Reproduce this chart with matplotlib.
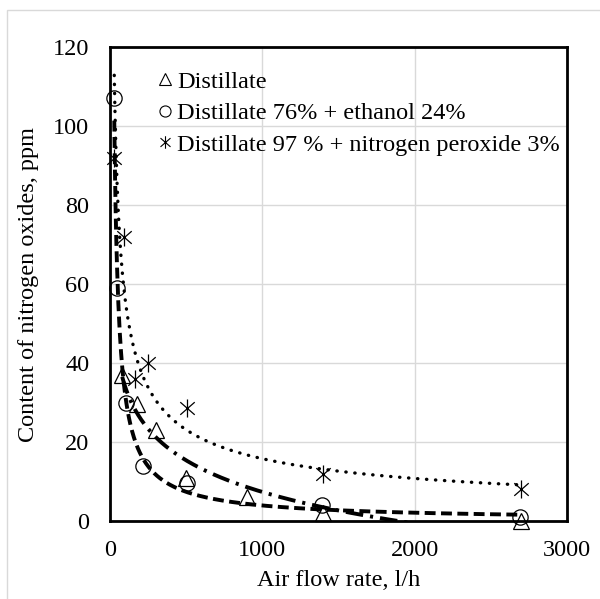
import numpy as np
import matplotlib.pyplot as plt
from matplotlib.lines import Line2D
from matplotlib.path import Path

plt.rcParams['font.family'] = ['Liberation Serif', 'DejaVu Serif']

# data
x_dist = [80, 175, 300, 500, 900, 1400, 2700]
y_dist = [37, 29.5, 23, 11, 6, 2, 0]

x_eth = [28, 44, 103, 219, 503, 1390, 2692]
y_eth = [107, 59, 30, 14, 9.7, 4, 1.1]

x_nox = [28, 92, 164, 252, 508, 1396, 2697]
y_nox = [92, 72, 36, 40, 28.5, 12, 8]

labels = ['Distillate', 'Distillate 76% + ethanol 24%',
          'Distillate 97 % + nitrogen peroxide 3%']

# Excel-like asterisk: an X with a vertical bar through it
star = Path([(0, -1), (0, 1), (-0.8, -0.7), (0.8, 0.7), (-0.8, 0.7), (0.8, -0.7)],
            [Path.MOVETO, Path.LINETO] * 3)

fig = plt.figure(figsize=(6, 5.99), dpi=100)
ax = fig.add_axes([110/600, 1 - 521/599, 457/600, 474/599])

# trend lines (Excel style: log for distillate, power for the others)
xs = np.linspace(min(x_dist), max(x_dist), 400)
k, b = np.polyfit(np.log(x_dist), y_dist, 1)
ax.plot(xs, k*np.log(xs) + b, color='black', lw=2.8,
        linestyle=(0, (4.5, 1.8, 0.8, 1.8)), zorder=2)

xs = np.linspace(min(x_eth), max(x_eth), 600)
p, lna = np.polyfit(np.log(x_eth), np.log(y_eth), 1)
ax.plot(xs, np.exp(lna)*xs**p, color='black', lw=2.8,
        linestyle=(0, (2.8, 1.4)), zorder=2)

xs = np.linspace(min(x_nox), max(x_nox), 600)
p, lna = np.polyfit(np.log(x_nox), np.log(y_nox), 1)
ax.plot(xs, np.exp(lna)*xs**p, color='black', lw=2.4,
        linestyle=(0, (0.1, 2.6)), dash_capstyle='round', zorder=2)

# markers
ax.plot(x_dist, y_dist, linestyle='none', marker='^', ms=11, mfc='none',
        mec='black', mew=0.9, clip_on=False, zorder=3)
ax.plot(x_eth, y_eth, linestyle='none', marker='o', ms=11, mfc='none',
        mec='black', mew=0.9, clip_on=False, zorder=3)
ax.plot(x_nox, y_nox, linestyle='none', marker=star, ms=13, mfc='none',
        mec='black', mew=0.9, clip_on=False, zorder=3)

ax.set_xlim(0, 3000)
ax.set_ylim(0, 120)
ax.set_xticks([0, 1000, 2000, 3000])
ax.set_yticks(range(0, 121, 20))
ax.tick_params(length=0, labelsize=17.5)
ax.tick_params(axis='y', pad=15)
ax.tick_params(axis='x', pad=14)
ax.grid(True, color='#d9d9d9', lw=1)
ax.set_axisbelow(True)
for s in ax.spines.values():
    s.set_linewidth(2)

ax.set_xlabel('Air flow rate, l/h', fontsize=17.5, labelpad=6)
ax.set_ylabel('Content of nitrogen oxides, ppm', fontsize=17.5, labelpad=10)

handles = [
    Line2D([], [], ls='none', marker='^', ms=8, mfc='none', mec='black', mew=0.8),
    Line2D([], [], ls='none', marker='o', ms=8, mfc='none', mec='black', mew=0.8),
    Line2D([], [], ls='none', marker=star, ms=9, mfc='none', mec='black', mew=0.8),
]
ax.legend(handles, labels, loc='upper left', bbox_to_anchor=(0.105, 0.95),
          frameon=False, fontsize=17.5, handlelength=0.55, handletextpad=0.25,
          labelspacing=0.39, borderaxespad=0, borderpad=0)

# light grey frame around the chart area
fig.add_artist(plt.Rectangle((7/600, -0.01), 1, 1 - 10/599 + 0.01,
                             transform=fig.transFigure, fill=False,
                             edgecolor='#d9d9d9', lw=1))

fig.savefig('out.png', dpi=100)
